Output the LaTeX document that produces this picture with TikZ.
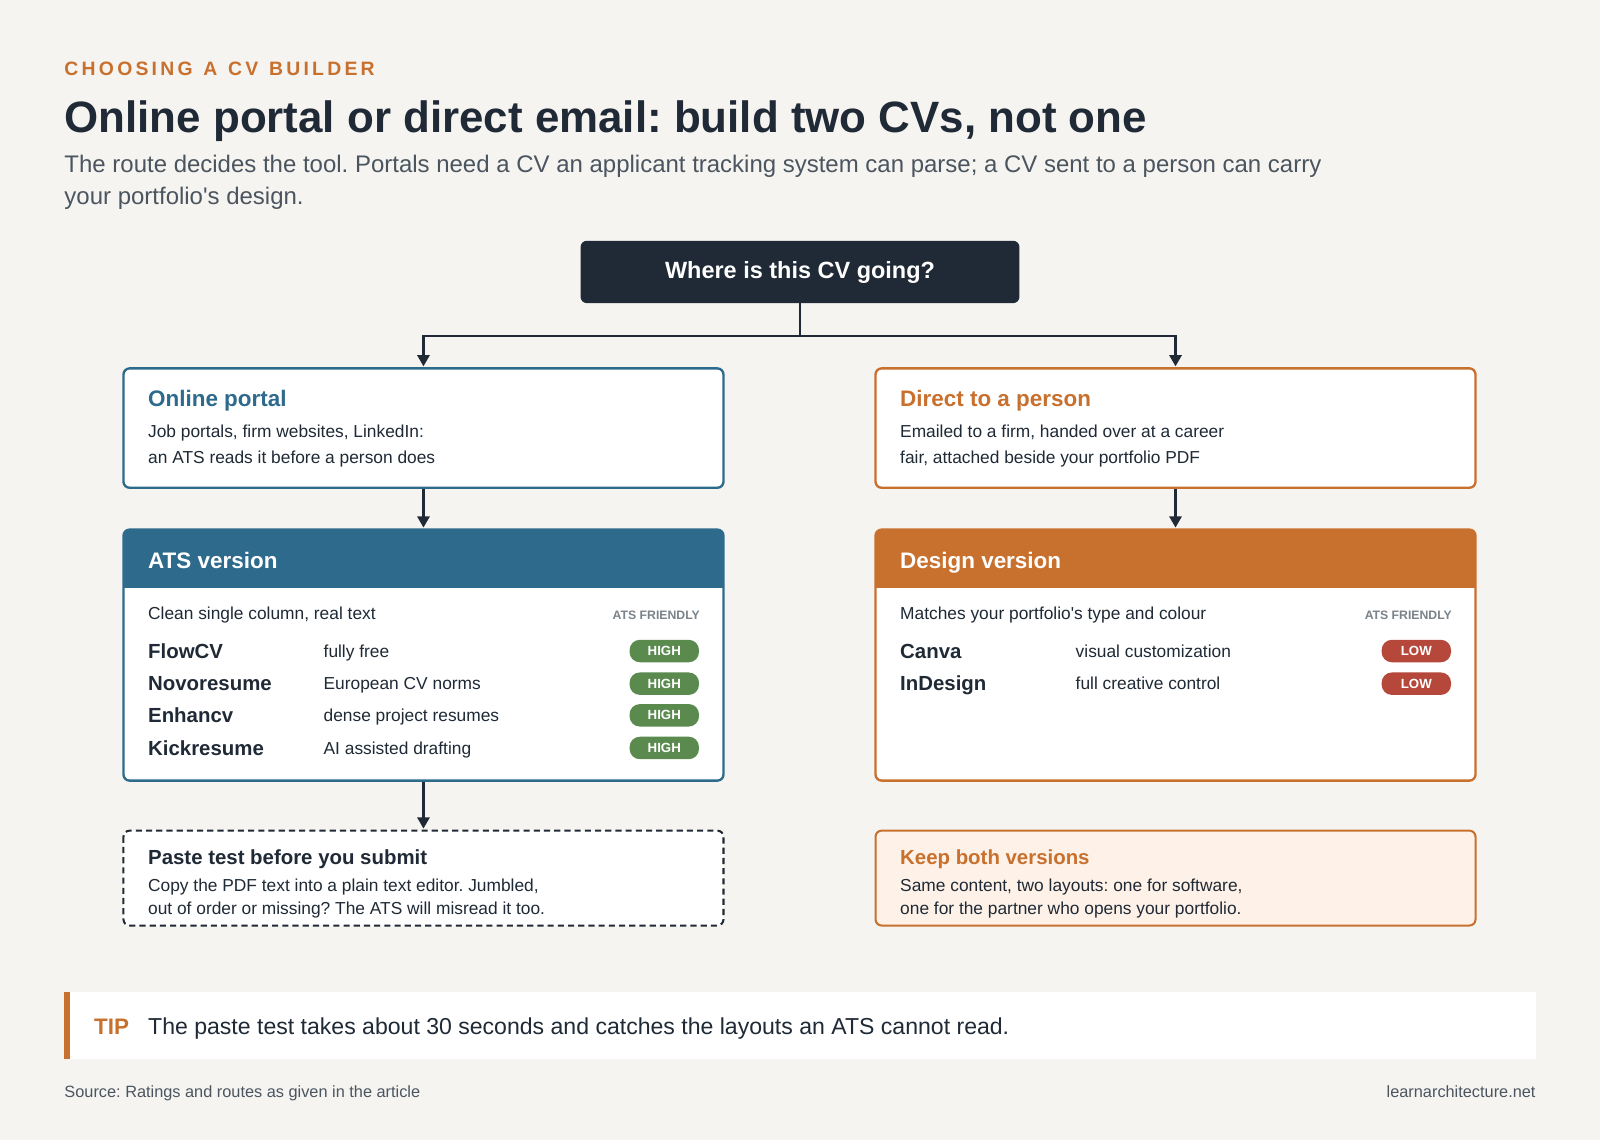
\documentclass[tikz,border=0pt]{standalone}
\usepackage{fontspec}
\setmainfont{Liberation Sans}[Ligatures=TeXOff]
\usetikzlibrary{arrows.meta}
\definecolor{bg}{HTML}{F6F4F0}
\definecolor{ink}{HTML}{1F2A36}
\definecolor{blu}{HTML}{2E6A8C}
\definecolor{org}{HTML}{C8702E}
\definecolor{gry}{HTML}{4A5560}
\definecolor{lgry}{HTML}{7A828A}
\definecolor{grn}{HTML}{5A8A4E}
\definecolor{red1}{HTML}{B5483A}
\definecolor{peach}{HTML}{FDF1E8}
\newcommand{\fs}[1]{\fontsize{#1}{#1}\selectfont}
\frenchspacing
\begin{document}
\begin{tikzpicture}[x=1pt,y=-1pt,
 txt/.style={anchor=base west,inner sep=0pt,text=ink},
 card/.style={draw=#1,line width=2.3pt,rounded corners=6pt,fill=white},
 pill/.style={fill=#1,rounded corners=10pt,minimum width=68pt,minimum height=22pt,inner sep=0pt,text=white,font=\fs{13}\bfseries},
 arr/.style={draw=ink,line width=2.3pt,-{Triangle[length=11pt,width=12pt]}},
 nm/.style={txt,font=\fs{20}\bfseries},
 desc/.style={txt,font=\fs{17}}]
\useasboundingbox (0,0) rectangle (1568,1117);
\fill[bg] (0,0) rectangle (1568,1117);
\node[txt,text=org,font=\fs{19}\bfseries] (kick) at (63,74) {C\,H\,O\,O\,S\,I\,N\,G\ \ A\ \ C\,V\ \ B\,U\,I\,L\,D\,E\,R};
\node[txt,font=\fs{43}\bfseries] (title) at (63,130) {Online portal or direct email: build two CVs, not one};
\node[txt,text=gry,font=\fs{23.5}] (sub1) at (63,169) {The route decides the tool. Portals need a CV an applicant tracking system can parse; a CV sent to a person can carry};
\node[txt,text=gry,font=\fs{23.5}] (sub2) at (63,200) {your portfolio's design.};
% top
\node[fill=ink,rounded corners=6pt,minimum width=430pt,minimum height=61pt,text=white,font=\fs{23}\bfseries,text height=16pt,text depth=4pt] (q) at (784,266.5) {Where is this CV going?};
\coordinate (j) at (784,329);
\coordinate (jl) at (415,329);
\coordinate (jr) at (1152,329);
\coordinate (l1t) at (415,359);
\coordinate (r1t) at (1152,359);
\draw[ink,line width=2.3pt] (q.south) -- (j);
\draw[arr] (j) -- (jl) -- (l1t);
\draw[arr] (j) -- (jr) -- (r1t);
% route cards
\draw[card=blu] (121,361) rectangle (709,478);
\node[txt,text=blu,font=\fs{22}\bfseries] (opt) at (145,398) {Online portal};
\node[desc] (op1) at (145,429) {Job portals, firm websites, LinkedIn:};
\node[desc] (op2) at (145,454) {an ATS reads it before a person does};
\draw[card=org] (858,361) rectangle (1446,478);
\node[txt,text=org,font=\fs{22}\bfseries] (dpt) at (882,398) {Direct to a person};
\node[desc] (dp1) at (882,429) {Emailed to a firm, handed over at a career};
\node[desc] (dp2) at (882,454) {fair, attached beside your portfolio PDF};
\coordinate (l1b) at (415,479); \coordinate (l2t) at (415,517);
\coordinate (r1b) at (1152,479); \coordinate (r2t) at (1152,517);
\draw[arr] (l1b) -- (l2t);
\draw[arr] (r1b) -- (r2t);
% ATS card
\draw[card=blu] (121,519) rectangle (709,765);
\fill[blu,rounded corners=6pt] (121,519) rectangle (709,576);
\fill[blu] (121,560) rectangle (709,576);
\node[txt,text=white,font=\fs{22}\bfseries] (atst) at (145,557) {ATS version};
\node[desc] (atsd) at (145,607) {Clean single column, real text};
\node[anchor=base east,inner sep=0pt,text=lgry,font=\fs{12}\bfseries] (af1) at (686,607) {ATS FRIENDLY};
\node[nm] (n1) at (145,645) {FlowCV};
\node[desc] (d1) at (317,644) {fully free};
\node[pill=grn] (p1) at (651,638) {HIGH};
\node[nm] (n2) at (145,677) {Novoresume};
\node[desc] (d2) at (317,676) {European CV norms};
\node[pill=grn] (p2) at (651,670) {HIGH};
\node[nm] (n3) at (145,708) {Enhancv};
\node[desc] (d3) at (317,707) {dense project resumes};
\node[pill=grn] (p3) at (651,701) {HIGH};
\node[nm] (n4) at (145,740) {Kickresume};
\node[desc] (d4) at (317,739) {AI assisted drafting};
\node[pill=grn] (p4) at (651,733) {HIGH};
% Design card
\draw[card=org] (858,519) rectangle (1446,765);
\fill[org,rounded corners=6pt] (858,519) rectangle (1446,576);
\fill[org] (858,560) rectangle (1446,576);
\node[txt,text=white,font=\fs{22}\bfseries] (dvt) at (882,557) {Design version};
\node[desc] (dvd) at (882,607) {Matches your portfolio's type and colour};
\node[anchor=base east,inner sep=0pt,text=lgry,font=\fs{12}\bfseries] (af2) at (1423,607) {ATS FRIENDLY};
\node[nm] (m1) at (882,645) {Canva};
\node[desc] (e1) at (1054,644) {visual customization};
\node[pill=red1] (q1) at (1388,638) {LOW};
\node[nm] (m2) at (882,677) {InDesign};
\node[desc] (e2) at (1054,676) {full creative control};
\node[pill=red1] (q2) at (1388,670) {LOW};
% bottom
\coordinate (l2b) at (415,766); \coordinate (l3t) at (415,812);
\draw[arr] (l2b) -- (l3t);
\draw[ink,line width=2pt,dash pattern=on 6pt off 4pt,rounded corners=6pt,fill=white] (121,814) rectangle (709,907);
\node[txt,font=\fs{20}\bfseries] (ptt) at (145,847) {Paste test before you submit};
\node[desc] (pt1) at (145,874) {Copy the PDF text into a plain text editor. Jumbled,};
\node[desc] (pt2) at (145,896) {out of order or missing? The ATS will misread it too.};
\draw[org,line width=2pt,rounded corners=6pt,fill=peach] (858,814) rectangle (1446,907);
\node[txt,text=org,font=\fs{20}\bfseries] (kbt) at (882,847) {Keep both versions};
\node[desc] (kb1) at (882,874) {Same content, two layouts: one for software,};
\node[desc] (kb2) at (882,896) {one for the partner who opens your portfolio.};
% tip
\fill[white] (63,972) rectangle (1505,1038);
\fill[org] (63,972) rectangle (69,1038);
\node[txt,text=org,font=\fs{22}\bfseries] (tip) at (92,1014) {TIP};
\node[txt,font=\fs{22.6}] (tipt) at (145,1014) {The paste test takes about 30 seconds and catches the layouts an ATS cannot read.};
\node[txt,text=gry,font=\fs{16}] (src) at (63,1076) {Source: Ratings and routes as given in the article};
\node[anchor=base east,inner sep=0pt,text=gry,font=\fs{16}] (site) at (1505,1076) {learnarchitecture.net};
\end{tikzpicture}
\end{document}
